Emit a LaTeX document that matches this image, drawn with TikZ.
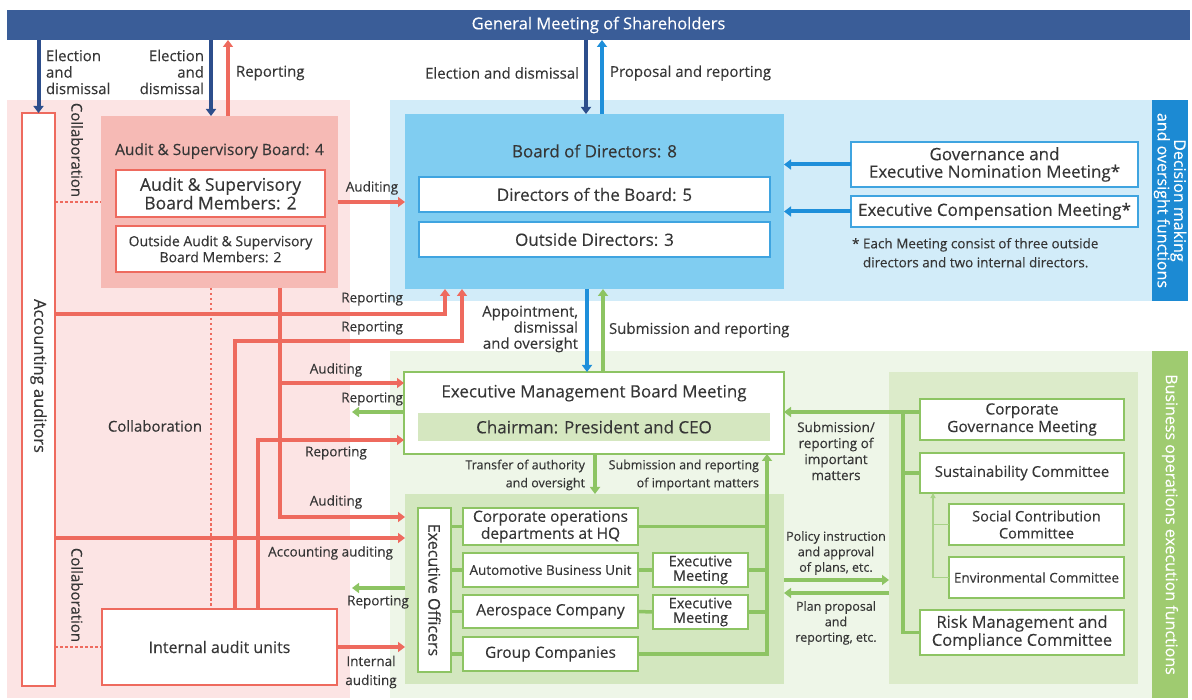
\documentclass[tikz,border=0pt]{standalone}
\usepackage{fontspec}
\setmainfont{Open Sans}[UprightFeatures={FakeBold=0.25}]
\usetikzlibrary{arrows.meta,calc}
\definecolor{gmblue}{HTML}{3A5D98}
\definecolor{dkblue}{HTML}{2D4E8C}
\definecolor{ltblue}{HTML}{1E8FDA}
\definecolor{bluebgc}{HTML}{D2ECF9}
\definecolor{bodfill}{HTML}{80CDF1}
\definecolor{bborder}{HTML}{3FA4E0}
\definecolor{btabc}{HTML}{1C8AD3}
\definecolor{red1}{HTML}{EE6A5E}
\definecolor{pinkbg}{HTML}{FCE4E4}
\definecolor{asbfill}{HTML}{F6BAB5}
\definecolor{grn}{HTML}{8DC463}
\definecolor{grnthin}{HTML}{A8D288}
\definecolor{greenbgc}{HTML}{EEF6E8}
\definecolor{eoafill}{HTML}{D3E7BF}
\definecolor{cmafill}{HTML}{DCEBCA}
\definecolor{chairfill}{HTML}{D5E7C0}
\definecolor{gtabc}{HTML}{9FCB70}
\definecolor{txt}{HTML}{363636}
\newcommand\fz[2]{\fontsize{#1}{#2}\selectfont}
\begin{document}
\begin{tikzpicture}[x=1pt,y=-1pt,
  every node/.style={text=txt, inner sep=0pt, outer sep=0pt},
  rect/.style n args={2}{minimum width=#1pt, minimum height=#2pt},
  rbox/.style={fill=white, draw=red1, line width=1.2pt},
  bbox/.style={fill=white, draw=bborder, line width=1.4pt},
  gbox/.style={fill=white, draw=grn, line width=1.4pt},
  labL/.style={font=\fz{15}{16.5}},
  labS/.style={font=\fz{13.5}{16}},
  labC/.style={font=\fz{12.5}{15.5}},
  redln/.style={draw=red1, line width=3.5pt},
  redar/.style={redln, -{Triangle[width=10pt,length=7pt]}},
  dkar/.style={draw=dkblue, line width=4pt, -{Triangle[width=10pt,length=7pt]}},
  lbar/.style={draw=ltblue, line width=4pt, -{Triangle[width=10pt,length=7pt]}},
  grln/.style={draw=grn, line width=3.5pt},
  grar/.style={grln, -{Triangle[width=10pt,length=7pt]}},
  thinar/.style={draw=grnthin, line width=1.3pt, -{Triangle[width=5pt,length=5pt]}},
  dotl/.style={draw=red1, line width=2.5pt, dash pattern=on 2.5pt off 2.5pt}
]
\useasboundingbox (0,0) rectangle (1192,700);
% helper coordinates
\foreach \v in {211,228,235,258,280,445,462,586,587,595,602,603,767,903,933}{\coordinate (x\v) at (\v,0);}
\foreach \v in {202,314,341,383,412,440,517,538,580,588,593}{\coordinate (y\v) at (0,\v);}
\coordinate (g1end) at (352,412);
\coordinate (g2end) at (352,588);

% background regions
\node[rect={343}{598}, fill=pinkbg] (pink) at (178.5,399) {};
\node[rect={762}{201}, fill=bluebgc] (bluebg) at (771,200.5) {};
\node[rect={762}{347}, fill=greenbgc] (greenbg) at (771,524.5) {};
\node[rect={201}{36}, fill=btabc, rotate=-90, text=white, align=center, font=\fz{16}{16.5}] (btab) at (1170,200.5) {Decision making\\and oversight functions};
\node[rect={347}{36}, fill=gtabc, rotate=-90, text=white, font=\fz{16}{18}] (gtab) at (1170,524.5) {Business operations execution functions};

% top bar
\node[rect={1183}{30}, fill=gmblue, text=white, font=\fz{16.5}{18}] (gm) at (598.5,25) {General Meeting of Shareholders};

% audit side
\node[rect={33}{573}, rbox] (acc) at (38.5,399.5) {};
\node[rotate=-90, font=\fz{16.5}{18}] (acct) at (38.5,376) {Accounting auditors};
\node[rect={237}{172}, fill=asbfill] (asb) at (219.5,202) {};
\node[font=\fz{15.5}{18}] (asbt) at (219.5,151) {Audit \& Supervisory Board: 4};
\node[rect={209}{47}, rbox, align=center, font=\fz{17.5}{18.5}] (asm) at (220.5,193.5) {Audit \& Supervisory\\Board Members: 2};
\node[rect={209}{46}, rbox, align=center, font=\fz{14}{16}] (oasm) at (220.5,249) {Outside Audit \& Supervisory\\Board Members: 2};
\node[rect={235}{76}, rbox, font=\fz{16}{18}] (iau) at (219.5,647) {Internal audit units};

% board
\node[rect={379}{175}, fill=bodfill] (bod) at (594.5,201.5) {};
\node[font=\fz{17}{19}] (bodt) at (594.5,151) {Board of Directors: 8};
\node[rect={351}{35}, bbox, font=\fz{17}{19}] (dob) at (594.5,194.5) {Directors of the Board: 5};
\node[rect={351}{35}, bbox, font=\fz{17}{19}] (od) at (594.5,239.5) {Outside Directors: 3};
\node[rect={287}{45}, bbox, align=center, font=\fz{17}{17.5}] (gen) at (994.5,164.5) {Governance and\\Executive Nomination Meeting*};
\node[rect={287}{31}, bbox, font=\fz{17}{19}] (ecm) at (994.5,211.5) {Executive Compensation Meeting*};
\node[anchor=north west, align=left, font=\fz{13.5}{19}] (fn) at (852,238) {* Each Meeting consist of three outside\\\phantom{*} directors and two internal directors.};

% executive
\node[rect={380}{82}, gbox] (emb) at (594,413) {};
\node[font=\fz{17}{19}] (embt) at (594,393) {Executive Management Board Meeting};
\node[rect={352}{28}, fill=chairfill, font=\fz{17}{19}] (chair) at (594,427) {Chairman: President and CEO};
\node[rect={379}{190}, fill=eoafill] (eoa) at (594.5,589) {};
\node[rect={33}{164}, gbox] (eo) at (434.5,590) {};
\node[rotate=-90, font=\fz{16}{18}] (eot) at (434.5,590) {Executive Officers};
\node[rect={175}{37}, gbox, align=center, font=\fz{15.5}{17}] (cop) at (550.5,526.5) {Corporate operations\\departments at HQ};
\node[rect={175}{34}, gbox, font=\fz{13.5}{17}] (abu) at (550.5,570) {Automotive Business Unit};
\node[rect={175}{33}, gbox, font=\fz{15.5}{17}] (aer) at (550.5,611.5) {Aerospace Company};
\node[rect={175}{34}, gbox, font=\fz{15.5}{17}] (grp) at (550.5,654) {Group Companies};
\node[rect={95}{34}, gbox, align=center, font=\fz{14.5}{14.5}] (em1) at (700.5,570) {Executive\\Meeting};
\node[rect={95}{34}, gbox, align=center, font=\fz{14.5}{14.5}] (em2) at (700.5,612) {Executive\\Meeting};

% committees
\node[rect={249}{312}, fill=cmafill] (cma) at (1013.5,528) {};
\node[rect={204}{41}, gbox, align=center, font=\fz{15.5}{17.5}] (cgm) at (1022,419.5) {Corporate\\Governance Meeting};
\node[rect={204}{40}, gbox, font=\fz{15}{17}] (sus) at (1022,473) {Sustainability Committee};
\node[rect={175}{41}, gbox, align=center, font=\fz{14.5}{17}] (soc) at (1036.5,524.5) {Social Contribution\\Committee};
\node[rect={175}{41}, gbox, font=\fz{13.5}{17}] (env) at (1036.5,577.5) {Environmental Committee};
\node[rect={204}{45}, gbox, align=center, font=\fz{16.5}{18}] (risk) at (1022,632.5) {Risk Management and\\Compliance Committee};

% top connectors
\draw[dkar] (acc.north |- gm.south) -- (acc.north);
\draw[dkar] (gm.south -| x211) -- (asb.north -| x211);
\draw[redar] (asb.north -| x228) -- (gm.south -| x228);
\draw[dkar] (gm.south -| x586) -- (bod.north -| x586);
\draw[lbar] (bod.north -| x602) -- (gm.south -| x602);

% board connectors
\draw[redar] (asb.east) -- (asb.east -| bod.west);
\draw[lbar] (gen.west) -- (gen.west -| bod.east);
\draw[lbar] (ecm.west) -- (ecm.west -| bod.east);
\draw[lbar] (bod.south -| x587) -- (emb.north -| x587);
\draw[grar] (emb.north -| x603) -- (bod.south -| x603);

% collaboration dotted
\draw[dotl] (acc.east |- y202) -- (asb.west |- y202);
\draw[dotl] (asb.south -| x211) -- (iau.north -| x211);
\draw[dotl] (acc.east |- iau.west) -- (iau.west);

% red connectors
\draw[redar] (acc.east |- y314) -| (bod.south -| x445);
\draw[redar] (iau.north -| x235) |- (x462 |- y341) -- (bod.south -| x462);
\draw[redar] (asb.south -| x280) |- (eoa.west |- y517);
\draw[redar] (x280 |- y383) -- (emb.west |- y383);
\draw[redar] (iau.north -| x258) |- (emb.west |- y440);
\draw[redar] (acc.east |- y538) -- (eoa.west |- y538);
\draw[redar] (iau.east) -- (iau.east -| eoa.west);

% green connectors
\draw[grar] (emb.west |- y412) -- (g1end);
\draw[grar] (eoa.west |- y588) -- (g2end);
\draw[grar] (emb.south -| x595) -- (eoa.north -| x595);
\draw[grln] (eo.east |- cop.west) -- (cop.west);
\draw[grln] (eo.east |- abu.west) -- (abu.west);
\draw[grln] (eo.east |- aer.west) -- (aer.west);
\draw[grln] (eo.east |- grp.west) -- (grp.west);
\draw[grln] (abu.east) -- (em1.west);
\draw[grln] (aer.east) -- (em2.west);
\draw[grln] (cop.east) -- (cop.east -| x767);
\draw[grln] (em1.east) -- (em1.east -| x767);
\draw[grln] (em2.east) -- (em2.east -| x767);
\draw[grar] (grp.east) -| (emb.south -| x767);
\draw[grar] (cgm.west |- y412) -- (emb.east |- y412);
\draw[grln] (x903 |- y412) |- (risk.west);
\draw[grln] (x903 |- sus.west) -- (sus.west);
\draw[thinar] (env.west) -| (sus.south -| x933);
\draw[draw=grnthin, line width=1.3pt] (soc.west) -- (soc.west -| x933);
\draw[grar] (eoa.east |- y580) -- (cma.west |- y580);
\draw[grar] (cma.west |- y593) -- (eoa.east |- y593);

% labels
\node[labL, align=left, anchor=west] (lE1) at (46,72) {Election\\and\\dismissal};
\node[labL, align=right, anchor=east] (lE2) at (204,72) {Election\\and\\dismissal};
\node[labL, anchor=west] (lRep0) at (236,73) {Reporting};
\node[labL, anchor=east] (lE3) at (579,73) {Election and dismissal};
\node[labL, anchor=west] (lProp) at (610,73) {Proposal and reporting};
\node[labL, rotate=-90] (lCol1) at (77,150) {Collaboration};
\node[labS] (lAud1) at (372,188) {Auditing};
\node[labS, anchor=east] (lRep1) at (403,299) {Reporting};
\node[labS, anchor=east] (lRep2) at (403,328) {Reporting};
\node[labL, align=right, anchor=east, font=\fz{15}{16}] (lApp) at (578,329) {Appointment,\\dismissal\\and oversight};
\node[labL, anchor=west] (lSub) at (609,330) {Submission and reporting};
\node[labS] (lAud2) at (336,370) {Auditing};
\node[labS, anchor=east] (lRep3) at (403,399) {Reporting};
\node[labL] (lCol2) at (155,426) {Collaboration};
\node[labS] (lRep4) at (336,453) {Reporting};
\node[labC, align=right, anchor=east, font=\fz{12.5}{18}] (lTr) at (585,475) {Transfer of authority\\and oversight};
\node[labC, align=right, anchor=east, font=\fz{12.5}{18}] (lSub2) at (759,475) {Submission and reporting\\of important matters};
\node[labS] (lAud3) at (336,502) {Auditing};
\node[labS, anchor=east] (lAcc) at (393,553) {Accounting auditing};
\node[labL, rotate=-90] (lCol3) at (77,595) {Collaboration};
\node[labS] (lRep5) at (378,602) {Reporting};
\node[labS, align=center, font=\fz{13.5}{19}] (lInt) at (371,672) {Internal\\auditing};
\node[labS, align=center] (lSubR) at (836,451) {Submission/\\reporting of\\important\\matters};
\node[labC, align=center] (lPol) at (836,553) {Policy instruction\\and approval\\of plans, etc.};
\node[labC, align=center] (lPlan) at (836,623) {Plan proposal\\and\\reporting, etc.};
\end{tikzpicture}
\end{document}
